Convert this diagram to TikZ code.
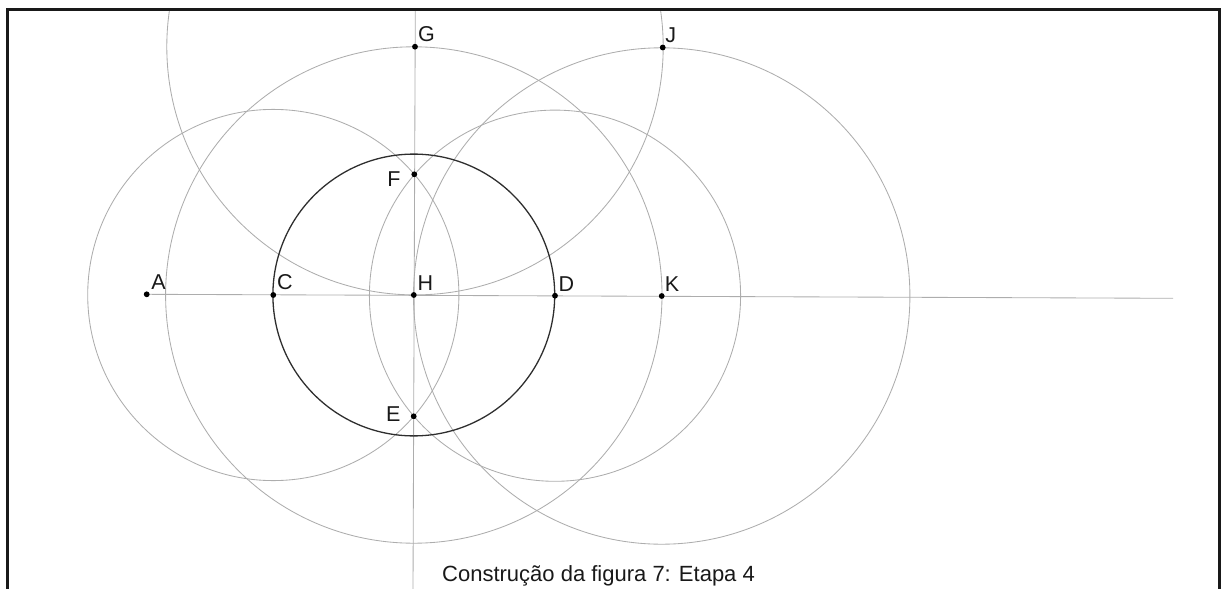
\documentclass[tikz,border=0pt]{standalone}
\usepackage{fontspec}
\setmainfont{Liberation Sans}
\usetikzlibrary{calc}
\begin{document}
\begin{tikzpicture}[x=1pt,y=-1pt,
  construct/.style={draw=black!32,line width=0.85pt},
  mainc/.style={draw=black!82,line width=1.3pt},
  frameline/.style={draw=black!90,line width=3pt},
  dot/.style={circle,fill=black,inner sep=0pt,minimum size=5.8pt},
  lbl/.style={inner sep=0pt,font=\fontsize{21.5}{25}\selectfont,text=black!90}]
\useasboundingbox (0,0) rectangle (1221,589);
% points
\coordinate (A) at (146.7,294.3);
\coordinate (C) at (273.3,295.0);
\coordinate (H) at (413.8,295.0);
\coordinate (D) at (555.0,295.7);
\coordinate (K) at (661.7,296.0);
\coordinate (G) at (415.0,46.7);
\coordinate (J) at (662.7,47.5);
\coordinate (F) at (414.3,174.3);
\coordinate (E) at (413.7,416.3);
\coordinate (hend) at (1173,298.3);
\coordinate (vtop) at (415.3,10);
\coordinate (vbot) at (413.0,589);
\begin{scope}
  \clip (8,10.5) rectangle (1218,589);
  \draw[construct] (C) circle[radius=185.6pt];
  \draw[construct] (D) circle[radius=185.6pt];
  \draw[construct] (H) circle[radius=248.2pt];
  \draw[construct] (G) circle[radius=248.2pt];
  \draw[construct] (K) circle[radius=248.2pt];
  \draw[construct] (A) -- (hend);
  \draw[construct] (vtop) -- (vbot);
  \draw[mainc] (H) circle[radius=140.9pt];
\end{scope}
\draw[frameline] (7,589) -- (7,9) -- (1219,9) -- (1219,589);
% dots
\foreach \p in {A,C,H,D,K,G,J,F,E} { \node[dot] (\p dot) at (\p) {}; }
% labels
\node[lbl,anchor=base west] (Alab) at ($(A)+(4.5,-5)$) {A};
\node[lbl,anchor=base west] (Clab) at ($(C)+(3.5,-5.5)$) {C};
\node[lbl,anchor=base west] (Hlab) at ($(H)+(3.5,-4.5)$) {H};
\node[lbl,anchor=base west] (Dlab) at ($(D)+(3.5,-4.5)$) {D};
\node[lbl,anchor=base west] (Klab) at ($(K)+(3,-4.5)$) {K};
\node[lbl,anchor=base west] (Glab) at ($(G)+(3,-5)$) {G};
\node[lbl,anchor=base west] (Jlab) at ($(J)+(2.5,-5)$) {J};
\node[lbl,anchor=base east] (Flab) at ($(F)+(-13.5,12.2)$) {F};
\node[lbl,anchor=base east] (Elab) at ($(E)+(-13,5.3)$) {E};
\node[lbl,anchor=base west,font=\fontsize{22}{26}\selectfont] (caption) at (442,581.7) {Construção da figura 7: Etapa 4};
\end{tikzpicture}
\end{document}
